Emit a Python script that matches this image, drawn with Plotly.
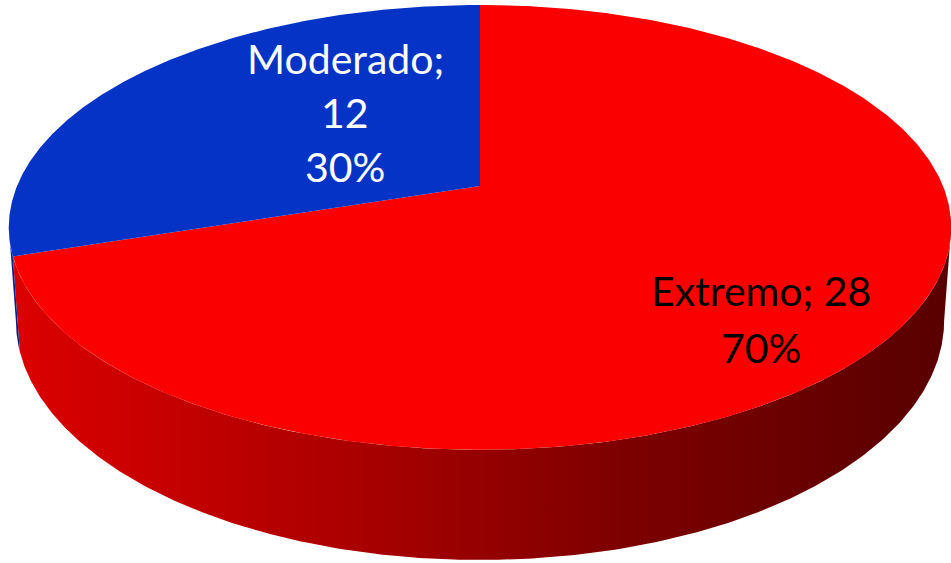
import numpy as np
import plotly.graph_objects as go

# ---- data ----
categories = ["Extremo", "Moderado"]
values = [28, 12]

# ---- style ----
top_colors = ["#FA0000", "#0433C6"]
wall_scales = [
    [[0, "rgb(220,0,0)"], [0.4, "rgb(165,0,0)"], [0.65, "rgb(125,0,0)"], [1, "rgb(88,0,0)"]],
    [[0, "rgb(3,40,165)"], [1, "rgb(2,28,120)"]],
]
label_wrap = [False, True]
label_font_colors = ["black", "white"]
label_x = [761, 345]
label_y0 = [290, 58]
label_gap = [57, 54]
FONT = "Lato"
FONT_SIZE = 41

# projection parameters (pseudo 3-D perspective)
CX, CY = 480.0, 186.0
RX, RY = 463.0, 214.7
P = 0.186        # perspective strength
H = 89.7         # wall height
Q = 0.985        # bottom shrink
START = 0.0      # first slice angle, clockwise from 12 o'clock


def proj(a_deg, bottom=False):
    phi = np.radians(90.0 - np.asarray(a_deg, dtype=float))
    k = 1.0 / (1.0 + P * np.sin(phi))
    x = CX + RX * np.cos(phi) * k
    y = CY - RY * np.sin(phi) * k
    if bottom:
        x = CX + (x - CX) * Q
        y = y + H * k
    return x, y


total = float(sum(values))
bounds = [START]
for v in values:
    bounds.append(bounds[-1] + 360.0 * v / total)

fig = go.Figure()

# visible front wall range (clockwise-from-top angles)
asp = np.degrees(np.arcsin(P))
vis_lo, vis_hi = 90.0 + asp, 270.0 - asp

# walls
for i in range(len(values)):
    a0, a1 = bounds[i], bounds[i + 1]
    lo, hi = max(a0, vis_lo), min(a1, vis_hi)
    if hi <= lo:
        continue
    aa = np.linspace(lo, hi, 300)
    xt, yt = proj(aa)
    xb, yb = proj(aa[::-1], bottom=True)
    xs = np.concatenate([xt, xb, xt[:1]])
    ys = np.concatenate([yt, yb, yt[:1]])
    fig.add_trace(go.Scatter(
        x=xs, y=ys, mode="lines", fill="toself",
        line=dict(width=0),
        fillgradient=dict(type="horizontal", colorscale=wall_scales[i]),
        hoverinfo="skip", showlegend=False,
    ))

# top faces
for i in range(len(values)):
    a0, a1 = bounds[i], bounds[i + 1]
    aa = np.linspace(a0, a1, 400)
    xt, yt = proj(aa)
    xs = np.concatenate([[CX], xt, [CX]])
    ys = np.concatenate([[CY], yt, [CY]])
    fig.add_trace(go.Scatter(
        x=xs, y=ys, mode="lines", fill="toself",
        line=dict(width=0), fillcolor=top_colors[i],
        hoverinfo="skip", showlegend=False, name=categories[i],
    ))

# labels
for i, (cat, v) in enumerate(zip(categories, values)):
    pct = f"{round(100 * v / total)}%"
    if label_wrap[i]:
        lines = [f"{cat};", f"{v}", pct]
    else:
        lines = [f"{cat}; {v}", pct]
    for j, t in enumerate(lines):
        fig.add_annotation(
            x=label_x[i], y=label_y0[i] + j * label_gap[i], text=t,
            showarrow=False, xanchor="center", yanchor="middle",
            font=dict(family=FONT, size=FONT_SIZE, color=label_font_colors[i]),
        )

fig.update_layout(
    width=951, height=563,
    margin=dict(l=0, r=0, t=0, b=0),
    paper_bgcolor="white", plot_bgcolor="white",
    xaxis=dict(range=[0, 951], visible=False, fixedrange=True),
    yaxis=dict(range=[563, 0], visible=False, fixedrange=True),
    showlegend=False,
)

fig.write_html(
    "out.html",
    config={"displayModeBar": False},
    post_script="document.body.style.margin='0';document.body.style.overflow='hidden';",
)
